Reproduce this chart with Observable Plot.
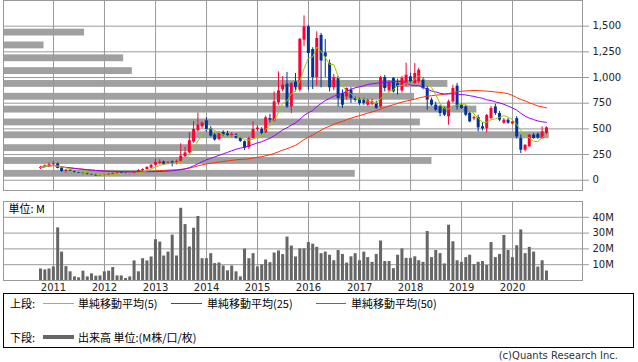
<!DOCTYPE html>
<html>
<head>
<meta charset="utf-8">
<script src="https://cdn.jsdelivr.net/npm/d3@7"></script>
<script src="https://cdn.jsdelivr.net/npm/@observablehq/plot@0.6"></script>
<style>
  body { margin: 0; background: #fff; }
  #wrap { position: relative; width: 638px; height: 362px; overflow: hidden; background: #fff; }
  .layer { position: absolute; left: 0; }
  [aria-label="y-axis tick"], [aria-label="y-axis"] .tick line { stroke: #999; }
  .lg { position: absolute; font-family: "Noto Sans CJK JP", sans-serif; font-size: 11px; line-height: 14px; color: #000; white-space: nowrap; }
  .ln { position: absolute; }
  #box { position: absolute; left: 3px; top: 293px; width: 631px; height: 55px; border: 1px solid #000; box-sizing: border-box; }
  #copy { position: absolute; right: 20px; top: 349px; font-family: "DejaVu Sans", sans-serif; font-size: 10px; line-height: 14px; color: #333; }
</style>
</head>
<body>
<div id="wrap">
  <div id="vp" class="layer" style="top:0"></div>
  <div id="main" class="layer" style="top:0"></div>
  <div id="vol" class="layer" style="top:192px"></div>
  <div id="box"></div>
  <div class="lg" style="left:10px;top:296px">上段:</div>
  <div class="ln" style="left:43px;top:303px;width:31px;height:1px;background:#99cc00"></div>
  <div class="lg" style="left:78px;top:296px">単純移動平均(5)</div>
  <div class="ln" style="left:171px;top:303px;width:31px;height:1px;background:#9900ff"></div>
  <div class="lg" style="left:207px;top:296px">単純移動平均(25)</div>
  <div class="ln" style="left:316px;top:303px;width:30px;height:1px;background:#ff3300"></div>
  <div class="lg" style="left:351px;top:296px">単純移動平均(50)</div>
  <div class="lg" style="left:10px;top:330px">下段:</div>
  <div class="ln" style="left:43px;top:335px;width:31px;height:4px;background:#666"></div>
  <div class="lg" style="left:78px;top:330px">出来高 単位:(M株/口/枚)</div>
  <div id="copy">(c)Quants Research Inc.</div>
</div>
<script>
// ---- data (monthly candles, Sep 2010 - Aug 2020) ----
const months = [
  "2010-09","2010-10","2010-11","2010-12",
  "2011-01","2011-02","2011-03","2011-04","2011-05","2011-06","2011-07","2011-08","2011-09","2011-10","2011-11","2011-12",
  "2012-01","2012-02","2012-03","2012-04","2012-05","2012-06","2012-07","2012-08","2012-09","2012-10","2012-11","2012-12",
  "2013-01","2013-02","2013-03","2013-04","2013-05","2013-06","2013-07","2013-08","2013-09","2013-10","2013-11","2013-12",
  "2014-01","2014-02","2014-03","2014-04","2014-05","2014-06","2014-07","2014-08","2014-09","2014-10","2014-11","2014-12",
  "2015-01","2015-02","2015-03","2015-04","2015-05","2015-06","2015-07","2015-08","2015-09","2015-10","2015-11","2015-12",
  "2016-01","2016-02","2016-03","2016-04","2016-05","2016-06","2016-07","2016-08","2016-09","2016-10","2016-11","2016-12",
  "2017-01","2017-02","2017-03","2017-04","2017-05","2017-06","2017-07","2017-08","2017-09","2017-10","2017-11","2017-12",
  "2018-01","2018-02","2018-03","2018-04","2018-05","2018-06","2018-07","2018-08","2018-09","2018-10","2018-11","2018-12",
  "2019-01","2019-02","2019-03","2019-04","2019-05","2019-06","2019-07","2019-08","2019-09","2019-10","2019-11","2019-12",
  "2020-01","2020-02","2020-03","2020-04","2020-05","2020-06","2020-07","2020-08"
];
const open = [
  115,125,140,150,
  160,118,88,97,90,77,72,68,60,55,43,47,
  50,58,66,74,68,60,58,76,94,104,118,146,
  164,178,162,178,170,180,228,266,372,482,520,578,
  504,440,398,465,450,425,440,408,375,318,406,494,
  495,461,600,575,753,880,935,714,955,877,1364,1494,
  1273,1000,1410,1240,1136,900,990,844,812,877,796,786,
  779,731,740,747,714,1000,870,990,940,870,930,1006,
  942,958,974,893,780,731,714,698,617,763,916,731,
  714,650,597,610,520,500,600,714,650,555,585,548,
  600,406,292,325,438,445,406,455
];
const high = [
  135,150,168,185,
  168,122,105,102,93,82,76,72,64,60,52,54,
  62,70,78,80,72,66,82,104,112,132,152,205,
  200,186,182,188,196,355,320,462,570,655,565,610,
  522,452,472,482,476,462,452,418,382,420,570,532,
  512,625,642,860,1055,1010,1050,950,1040,1380,1600,1510,
  1290,1445,1430,1370,1170,1030,1010,880,900,900,810,800,
  800,790,790,770,1010,1020,970,1000,984,1010,1140,1040,
  1136,1090,1000,910,800,760,730,710,780,925,942,745,
  725,660,625,633,560,640,720,740,670,600,600,575,
  620,440,345,445,455,460,520,520
];
const low = [
  105,118,130,135,
  110,75,70,84,70,64,60,52,48,38,38,40,
  45,54,60,64,55,52,55,72,86,98,110,140,
  150,145,150,130,150,170,220,255,360,470,500,470,
  420,380,385,425,420,415,400,368,290,300,400,470,
  440,455,560,565,730,860,700,650,860,860,1300,877,
  883,916,900,1000,860,870,714,700,780,747,760,730,
  730,720,725,690,700,860,850,850,830,850,910,940,
  930,940,880,682,720,670,617,620,536,750,682,690,
  620,560,580,471,480,460,590,630,570,545,545,540,
  400,260,276,320,400,400,400,440
];
const close = [
  125,140,150,160,
  115,85,97,90,76,70,68,58,52,42,47,50,
  58,66,72,68,60,58,76,94,104,124,146,172,
  176,154,168,160,182,235,266,385,495,536,556,494,
  430,392,455,440,430,445,410,378,312,405,494,508,
  455,607,585,763,870,925,714,940,900,1372,1494,1234,
  1000,1380,1160,1200,900,1000,796,731,893,796,779,747,
  747,779,763,700,1000,893,950,860,909,990,1023,958,
  1039,1071,893,780,731,682,650,633,763,893,714,698,
  633,568,610,510,500,630,698,650,585,585,555,568,
  422,292,341,438,406,410,471,510
];
// monthly volume, millions of shares
const volume = [
  7.3,6.7,7.3,8.6,
  33.3,18.0,8.8,5.5,2.3,1.7,5.9,2.3,4.2,2.7,2.9,5.5,
  5.9,8.2,2.9,2.9,1.3,2.3,12.4,5.5,13.8,12.4,14.9,25.8,
  24.3,15.5,18.0,28.7,15.5,45.7,35.4,21.2,33.1,40.5,13.8,13.8,
  17.0,10.7,11.1,9.2,6.1,9.2,5.5,2.3,19.9,13.8,17.0,8.6,
  9.9,13.0,11.3,17.4,18.7,16.4,27.5,21.8,14.9,20,20,24,
  23,21,17,18,16,12.5,19,16.5,11,15,17,12.5,
  18,14.5,11.5,16.5,25,12,12,7.5,16,20,14,14,
  15,12.5,11.5,31,14.5,19,17,10.5,35,24.5,12.5,11.5,
  14.5,16,10,11.5,12,9.5,24,14.5,16.5,28.5,19,14.5,
  22,32,17,21,18,8.5,12.5,6
];
// volume-by-price profile (price band lower bound, band volume in M)
const vpLow = [0,125,250,375,500,625,750,875,1000,1125,1250,1375];
const vpVolume = [243,296,150,377,288,327,284,307,89,83,28,56];
const vpBand = 125;

const years = [2011,2012,2013,2014,2015,2016,2017,2018,2019,2020];
const priceTicks = [0,250,500,750,1000,1250,1500];
const volTicks = [10,20,30,40];

// ---- styles ----
const gridColor = "#999";
const upColor = "#ff0033";
const downColor = "#003399";
const xDomain = [new Date(Date.UTC(2010,0,8)), new Date(Date.UTC(2021,4,16))];

const bars = months.map((s, i) => {
  const [y, m] = s.split("-").map(Number);
  return {date: new Date(Date.UTC(y, m, 0)), open: open[i], high: high[i], low: low[i], close: close[i], volume: volume[i]};
});
const yearDates = years.map(y => new Date(Date.UTC(y, 0, 1)));
const vpRows = vpLow.map((lo, i) => ({lo, hi: lo + vpBand, volume: vpVolume[i]}));

const baseStyle = {background: "transparent", fontFamily: "DejaVu Sans", fontSize: "10px", color: "#222", overflow: "visible"};
const up = d => d.close >= d.open;
const down = d => d.close < d.open;

const vpPlot = Plot.plot({
  width: 638, height: 192, marginLeft: 3, marginRight: 56, marginTop: 0, marginBottom: 2,
  style: baseStyle,
  x: {domain: [0, 400], axis: null},
  y: {domain: [-100, 1750], axis: null},
  marks: [
    Plot.rect(vpRows, {x1: 0, x2: "volume", y1: "lo", y2: "hi", fill: "#a0a0a0", insetTop: 3, insetBottom: 3})
  ]
});

const mainPlot = Plot.plot({
  width: 638, height: 192, marginLeft: 3, marginRight: 56, marginTop: 0, marginBottom: 2,
  style: baseStyle,
  x: {type: "utc", domain: xDomain, axis: null, label: null},
  y: {domain: [-100, 1750], axis: "right", ticks: priceTicks, tickFormat: d3.format(","), tickSize: 6, tickPadding: 4, label: null},
  marks: [
    Plot.ruleY(priceTicks, {stroke: gridColor}),
    Plot.ruleX(yearDates, {stroke: gridColor}),
    Plot.frame({stroke: gridColor}),
    Plot.ruleX(bars, {filter: up, x: "date", y1: "low", y2: "high", stroke: upColor, strokeWidth: 1}),
    Plot.ruleX(bars, {filter: up, x: "date", y1: "open", y2: "close", stroke: upColor, strokeWidth: 3}),
    Plot.ruleX(bars, {filter: down, x: "date", y1: "low", y2: "high", stroke: downColor, strokeWidth: 1}),
    Plot.ruleX(bars, {filter: down, x: "date", y1: "open", y2: "close", stroke: downColor, strokeWidth: 3}),
    Plot.lineY(bars, Plot.windowY({k: 50, anchor: "end", reduce: "mean"}, {x: "date", y: "close", stroke: "#ff3300", strokeWidth: 1})),
    Plot.lineY(bars, Plot.windowY({k: 25, anchor: "end", reduce: "mean"}, {x: "date", y: "close", stroke: "#9900ff", strokeWidth: 1})),
    Plot.lineY(bars, Plot.windowY({k: 5, anchor: "end", reduce: "mean"}, {x: "date", y: "close", stroke: "#99cc00", strokeWidth: 1}))
  ]
});

const volPlot = Plot.plot({
  width: 638, height: 100, marginLeft: 3, marginRight: 56, marginTop: 9, marginBottom: 12,
  style: baseStyle,
  x: {type: "utc", domain: xDomain, ticks: yearDates, tickFormat: d => String(d.getUTCFullYear()), tickSize: 0, tickPadding: 3, label: null},
  y: {domain: [0, 50], axis: "right", ticks: volTicks, tickFormat: d => d + "M", tickSize: 6, tickPadding: 4, label: null},
  marks: [
    Plot.ruleY(volTicks, {stroke: gridColor}),
    Plot.ruleX(yearDates, {stroke: gridColor}),
    Plot.frame({stroke: gridColor}),
    Plot.ruleX(bars, {x: "date", y1: 0, y2: "volume", stroke: "#666", strokeWidth: 3}),
    Plot.text(["単位: M"], {text: d => d, frameAnchor: "top-left", dx: 5, dy: 8, textAnchor: "start", lineAnchor: "middle", fontSize: 11, fontFamily: "Noto Sans CJK JP", fill: "#000"})
  ]
});

document.getElementById("vp").appendChild(vpPlot);
document.getElementById("main").appendChild(mainPlot);
document.getElementById("vol").appendChild(volPlot);
</script>
</body>
</html>
